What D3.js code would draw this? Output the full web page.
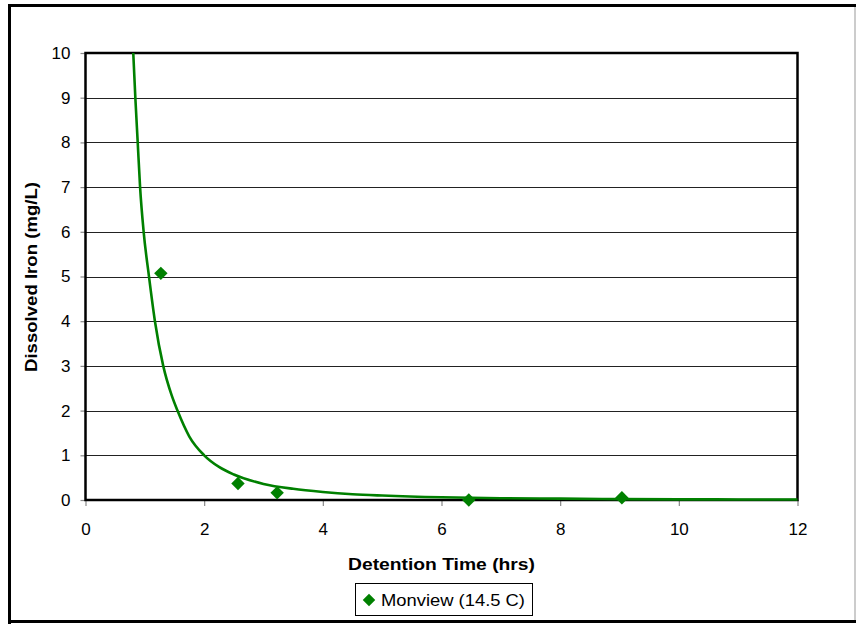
<!DOCTYPE html>
<html>
<head>
<meta charset="utf-8">
<script src="https://cdn.jsdelivr.net/npm/d3@7"></script>
<style>
  html, body { margin: 0; padding: 0; background: #fff; }
  svg { display: block; }
  text { font-family: "Liberation Sans", Arial, sans-serif; fill: #000; }
</style>
</head>
<body>
<svg id="chart" width="856" height="624"></svg>
<script>
// Measured samples: detention time (hrs) vs dissolved iron (mg/L)
const sampleTime = [1.27, 2.57, 3.23, 6.46, 9.04];
const sampleIron = [5.07, 0.37, 0.16, 0.00, 0.05];

// Fitted trend curve
const trendTime = [0.805, 0.84, 0.88, 0.92, 0.98, 1.07, 1.17, 1.31, 1.45, 1.55, 1.75, 2.0, 2.25, 2.5, 3.0, 3.5, 4.0, 4.5, 5.0, 6.0, 7.0, 8.0, 9.0, 10.0, 11.0, 12.0];
const trendIron = [10.0, 9.0, 8.0, 7.0, 6.0, 5.0, 4.0, 3.0, 2.35, 2.0, 1.42, 1.0, 0.74, 0.57, 0.36, 0.25, 0.18, 0.13, 0.10, 0.06, 0.04, 0.03, 0.02, 0.015, 0.012, 0.01];

const xTicks = [0, 2, 4, 6, 8, 10, 12];
const yTicks = [0, 1, 2, 3, 4, 5, 6, 7, 8, 9, 10];

const seriesName = "Monview (14.5 C)";
const xTitle = "Detention Time (hrs)";
const yTitle = "Dissolved Iron (mg/L)";

const green = "#008000";
const svg = d3.select("#chart");

const plot = { left: 85.5, right: 797.5, top: 53, bottom: 500 };
const x = d3.scaleLinear().domain([0, 12]).range([plot.left, plot.right]);
const y = d3.scaleLinear().domain([0, 10]).range([plot.bottom, plot.top]);

// Outer chart frame
svg.append("line").attr("x1", 9.5).attr("x2", 9.5).attr("y1", 4).attr("y2", 624)
  .attr("stroke", "#000").attr("stroke-width", 3);
svg.append("line").attr("x1", 8).attr("x2", 856).attr("y1", 5.5).attr("y2", 5.5)
  .attr("stroke", "#000").attr("stroke-width", 3);
svg.append("line").attr("x1", 8).attr("x2", 856).attr("y1", 621.5).attr("y2", 621.5)
  .attr("stroke", "#000").attr("stroke-width", 3);
svg.append("line").attr("x1", 855).attr("x2", 855).attr("y1", 7).attr("y2", 620)
  .attr("stroke", "#999").attr("stroke-width", 1);

// Horizontal gridlines
svg.append("g").selectAll("line").data(yTicks.filter(d => d > 0 && d < 10)).join("line")
  .attr("x1", plot.left).attr("x2", plot.right)
  .attr("y1", d => Math.round(y(d)) + 0.5).attr("y2", d => Math.round(y(d)) + 0.5)
  .attr("stroke", "#222").attr("stroke-width", 1);

// Axes
const yAxis = d3.axisLeft(y).tickValues(yTicks).tickSize(5).tickPadding(10).tickFormat(d3.format("d"));
const xAxis = d3.axisBottom(x).tickValues(xTicks).tickSize(6).tickPadding(17).tickFormat(d3.format("d"));

const gy = svg.append("g").attr("transform", `translate(${plot.left},0)`).call(yAxis);
const gx = svg.append("g").attr("transform", `translate(0,${plot.bottom})`).call(xAxis);
[gx, gy].forEach(g => {
  g.select(".domain").remove();
  g.selectAll(".tick line").attr("stroke", "#888").attr("stroke-width", 1.2);
  g.selectAll(".tick text").attr("font-family", "Liberation Sans, Arial, sans-serif")
    .attr("font-size", 17).attr("fill", "#000");
});

// Plot border
svg.append("rect").attr("x", plot.left).attr("y", plot.top)
  .attr("width", plot.right - plot.left).attr("height", plot.bottom - plot.top)
  .attr("fill", "none").attr("stroke", "#000").attr("stroke-width", 2.5);

// Trend curve
const trend = trendTime.map((t, i) => [t, trendIron[i]]);
svg.append("path").datum(trend)
  .attr("fill", "none").attr("stroke", green).attr("stroke-width", 2.6)
  .attr("d", d3.line().x(d => x(d[0])).y(d => y(d[1])).curve(d3.curveMonotoneX));

// Sample markers
const diamond = d3.symbol().type(d3.symbolDiamond2).size(115);
svg.append("g").selectAll("path").data(sampleTime.map((t, i) => [t, sampleIron[i]])).join("path")
  .attr("transform", d => `translate(${x(d[0])},${y(d[1])})`)
  .attr("d", diamond).attr("fill", green);

// Axis titles
svg.append("text").attr("x", 441.5).attr("y", 570).attr("text-anchor", "middle")
  .attr("font-size", 17).attr("font-weight", "bold")
  .attr("textLength", 187).attr("lengthAdjust", "spacingAndGlyphs").text(xTitle);
svg.append("text").attr("transform", "translate(37,277) rotate(-90)").attr("text-anchor", "middle")
  .attr("font-size", 17).attr("font-weight", "bold")
  .attr("textLength", 190).attr("lengthAdjust", "spacingAndGlyphs").text(yTitle);

// Legend
const lg = svg.append("g");
lg.append("rect").attr("x", 355.5).attr("y", 583.5).attr("width", 177).attr("height", 32)
  .attr("fill", "#fff").attr("stroke", "#000").attr("stroke-width", 1);
lg.append("path").attr("transform", "translate(369,600)")
  .attr("d", d3.symbol().type(d3.symbolDiamond2).size(100)).attr("fill", green);
lg.append("text").attr("x", 381).attr("y", 606).attr("font-size", 17)
  .attr("textLength", 144).attr("lengthAdjust", "spacingAndGlyphs").text(seriesName);
</script>
</body>
</html>
